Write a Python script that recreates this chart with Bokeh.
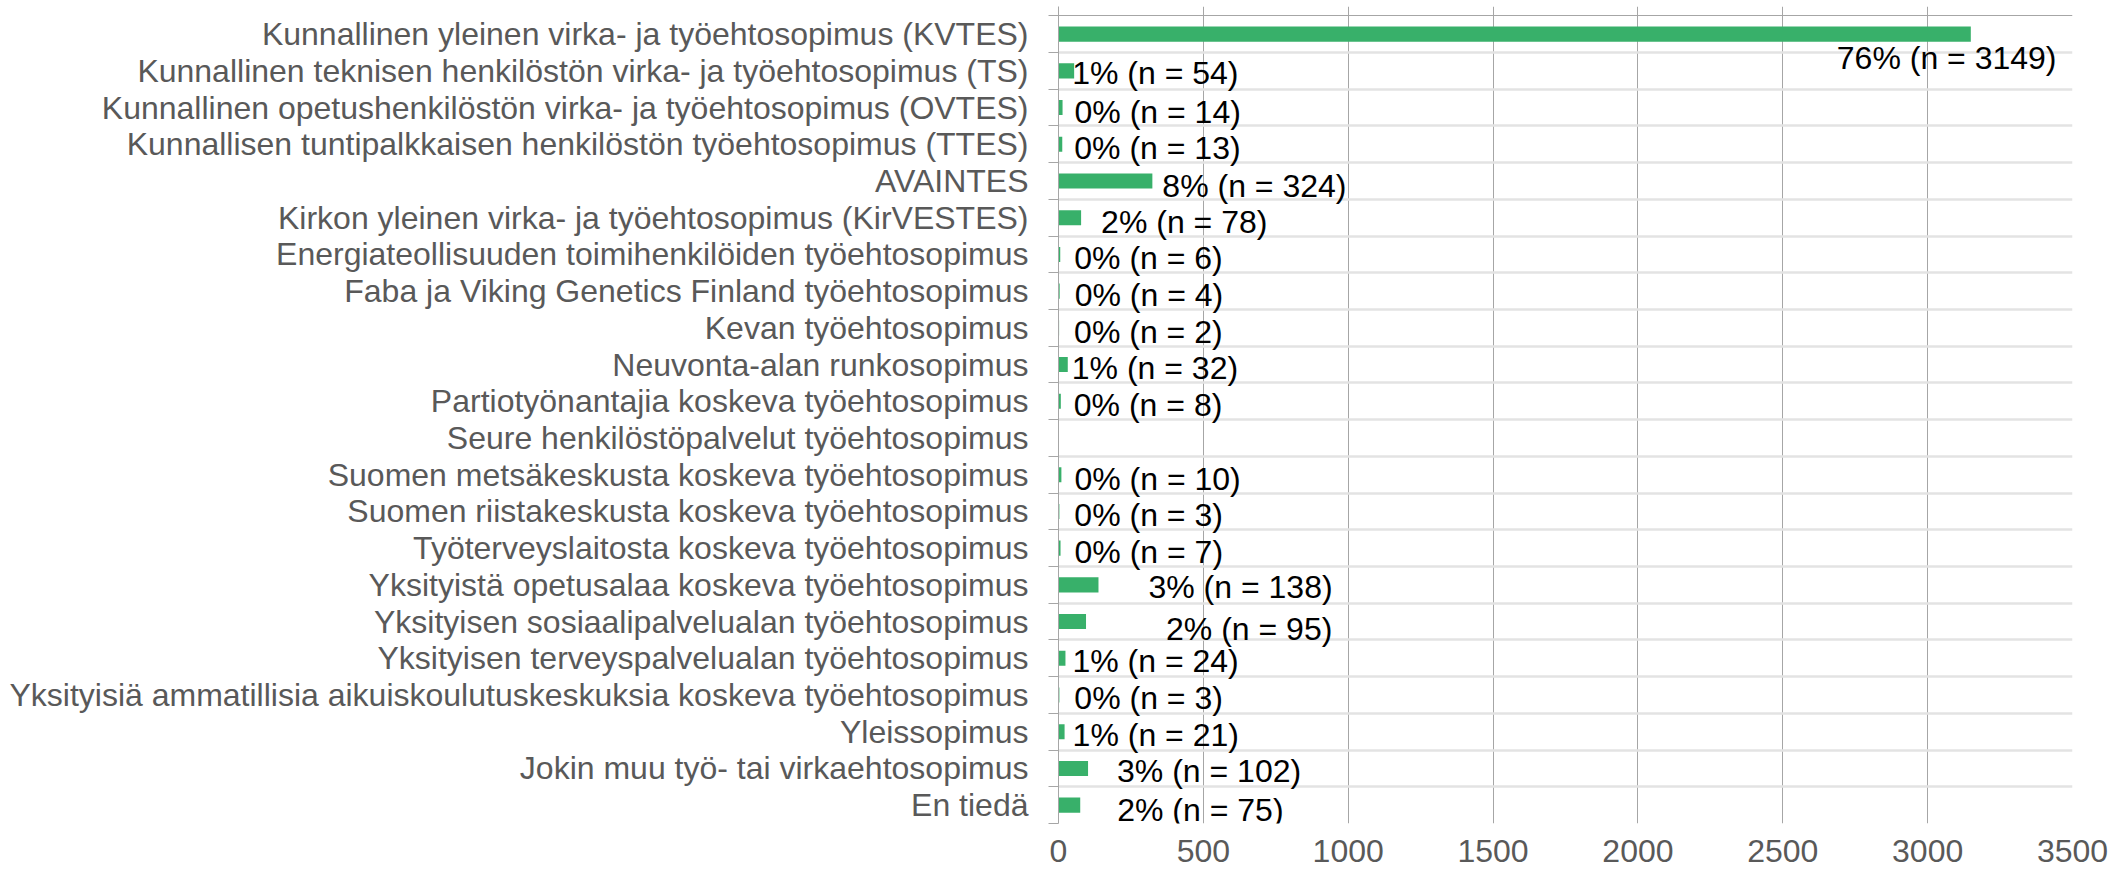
from bokeh.plotting import figure
from bokeh.models import (Range1d, FixedTicker, LinearAxis, Grid, ColumnDataSource)
from bokeh.core.properties import value
from bokeh.embed import file_html
from bokeh.resources import INLINE

# ---- data -------------------------------------------------------------
categories = [
    "Kunnallinen yleinen virka- ja työehtosopimus (KVTES)",
    "Kunnallinen teknisen henkilöstön virka- ja työehtosopimus (TS)",
    "Kunnallinen opetushenkilöstön virka- ja työehtosopimus (OVTES)",
    "Kunnallisen tuntipalkkaisen henkilöstön työehtosopimus (TTES)",
    "AVAINTES",
    "Kirkon yleinen virka- ja työehtosopimus (KirVESTES)",
    "Energiateollisuuden toimihenkilöiden työehtosopimus",
    "Faba ja Viking Genetics Finland työehtosopimus",
    "Kevan työehtosopimus",
    "Neuvonta-alan runkosopimus",
    "Partiotyönantajia koskeva työehtosopimus",
    "Seure henkilöstöpalvelut työehtosopimus",
    "Suomen metsäkeskusta koskeva työehtosopimus",
    "Suomen riistakeskusta koskeva työehtosopimus",
    "Työterveyslaitosta koskeva työehtosopimus",
    "Yksityistä opetusalaa koskeva työehtosopimus",
    "Yksityisen sosiaalipalvelualan työehtosopimus",
    "Yksityisen terveyspalvelualan työehtosopimus",
    "Yksityisiä ammatillisia aikuiskoulutuskeskuksia koskeva työehtosopimus",
    "Yleissopimus",
    "Jokin muu työ- tai virkaehtosopimus",
    "En tiedä",
]
counts = [3149, 54, 14, 13, 324, 78, 6, 4, 2, 32, 8, None, 10, 3, 7,
          138, 95, 24, 3, 21, 102, 75]
percents = [76, 1, 0, 0, 8, 2, 0, 0, 0, 1, 0, None, 0, 0, 0,
            3, 2, 1, 0, 1, 3, 2]
x_ticks = [0, 500, 1000, 1500, 2000, 2500, 3000, 3500]

# label placement (pixel offsets from bar end, as in the original chart)
label_dx = [-134, -2, 12, 12, 10, 20, 14, 15, 15, 4, 13, 0, 13, 15, 14,
            50, 80, 7, 15, 8, 29, 37]
label_dy = [24, 2, 4, 4, 5, 4, 4, 4, 4, 3, 4, 0, 4, 4, 4,
            2, 7, 3, 3, 3, 3, 5]

# ---- styles -----------------------------------------------------------
FONT = "Liberation Sans"
BAR = "#38B06A"
GRID = "#A6A6A6"
SEP = "#E3E3E3"
GREY_TXT = "#595959"

n = len(categories)
ys = list(range(n))

rows = [i for i in ys if counts[i] is not None]
src = ColumnDataSource(dict(
    y=[i for i in rows],
    count=[counts[i] for i in rows],
    label=[f"{percents[i]}% (n = {counts[i]})" for i in rows],
    dx=[label_dx[i] for i in rows],
    dy=[label_dy[i] for i in rows],
))

W, H = 2121, 877
p = figure(width=W, height=H, output_backend="svg", toolbar_location=None,
           x_range=Range1d(0, 3500), y_range=Range1d(n - 0.5, -0.753),
           y_axis_type=None,
           min_border_left=1058, min_border_right=49,
           min_border_top=6, min_border_bottom=54)
p.outline_line_color = None
p.background_fill_color = "white"
p.border_fill_color = "white"

# x axis
xa = p.xaxis[0]
xa.ticker = FixedTicker(ticks=x_ticks)
xa.axis_line_color = None
xa.major_tick_line_color = None
xa.minor_tick_line_color = None
xa.major_tick_out = 0
xa.major_tick_in = 0
xa.major_label_standoff = 16
xa.major_label_text_font = FONT
xa.major_label_text_font_size = "32px"
xa.major_label_text_color = GREY_TXT

p.xgrid.ticker = FixedTicker(ticks=x_ticks)
p.xgrid.grid_line_color = GRID
p.xgrid.grid_line_width = 1

# category boundaries
boundaries = [i - 0.5 for i in range(n + 1)]
p.add_layout(Grid(dimension=1, ticker=FixedTicker(ticks=boundaries[1:]),
                  grid_line_color=SEP, grid_line_width=2.5))
p.add_layout(Grid(dimension=1, ticker=FixedTicker(ticks=boundaries[:1]),
                  grid_line_color=GRID, grid_line_width=1))

# left axis 1: boundary ticks + axis line (innermost)
tick_axis = LinearAxis(ticker=FixedTicker(ticks=boundaries),
                       axis_line_color=GRID, major_tick_line_color=GRID,
                       minor_tick_line_color=None, major_tick_out=10,
                       major_tick_in=0, major_label_standoff=0,
                       major_label_text_font_size="0px",
                       major_label_overrides={b: "" for b in boundaries})
p.add_layout(tick_axis, "left")

# left axis 2: category names
cat_axis = LinearAxis(ticker=FixedTicker(ticks=ys),
                      major_label_overrides={i: c for i, c in enumerate(categories)},
                      axis_line_color=None, major_tick_line_color=None,
                      minor_tick_line_color=None, major_tick_out=0,
                      major_tick_in=0, major_label_standoff=20,
                      major_label_text_font=FONT,
                      major_label_text_font_size="32px",
                      major_label_text_color=GREY_TXT)
p.add_layout(cat_axis, "left")

# bars
p.hbar(y="y", left=0, right="count", height=0.41, source=src,
       fill_color=BAR, line_color=None)

# data labels
p.text(x="count", y="y", text="label", x_offset="dx", y_offset="dy",
       source=src, text_font=value(FONT), text_font_size="32px",
       text_color="black", text_align="left", text_baseline="middle")

open("out.html", "w").write(file_html(p, INLINE))
